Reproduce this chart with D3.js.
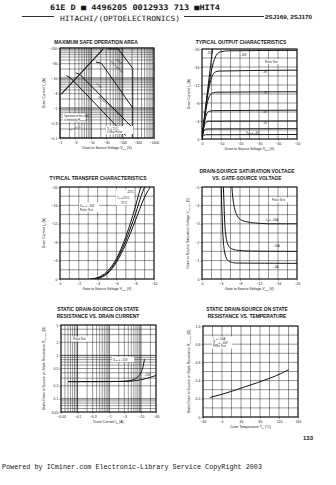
<!DOCTYPE html>
<html><head><meta charset="utf-8">
<script src="https://cdn.jsdelivr.net/npm/d3@7"></script>
<style>html,body{margin:0;padding:0;background:#fff;}svg{display:block}</style>
</head><body>
<svg id="c" width="336" height="485"></svg>
<script>
// ================= DATA =================
// 1. Maximum safe operation area (|VDS| V, |ID| A)
const soaXTicks = [1, 3, 10, 30, 100, 300, 1000];
const soaYTicks = [0.1, 0.3, 1, 3, 10, 30, 100];
const soaRdsLimit = [[1.1, 2.9], [24, 93]];
const soa10us = [[33, 93], [72, 93], [210, 21]];
const soa100us = [[14, 34], [21, 31], [210, 1.0]];
const soa1ms = [[3.2, 15], [4.5, 12.5], [190, 0.24]];
const soaDC = [[1.6, 12], [2.2, 10], [125, 0.12]];
const soaVmax = [[210, 21], [210, 0.1]];

// 2. Typical output characteristics (|VDS| V, |ID| A)
const outXTicks = [0, 10, 20, 30, 40, 50];
const outYTicks = [0, 4, 8, 12, 16, 20];
const outVgs15 = [[0,0],[1,3.8],[2,7.5],[3,11],[4,14.5],[5,18],[5.6,20]];
const outVgs10 = [[0,0],[1,3.7],[2,7.2],[3,10.3],[4,13],[5,15.3],[6,17],[7,18.2],[8,18.9],[10,19.4],[14,19.6],[50,19.7]];
const outVgs8  = [[0,0],[1,3.6],[2,6.9],[3,9.8],[4,12],[5,13.6],[6,14.5],[7,14.9],[9,15.1],[50,15.3]];
const outVgs7  = [[0,0],[1,3.4],[2,6.3],[3,8.4],[4,9.6],[5,10.1],[6,10.3],[8,10.4],[50,10.5]];
const outVgs6  = [[0,0],[1,3.0],[2,5.0],[3,5.9],[4,6.2],[6,6.3],[50,6.4]];
const outVgs5  = [[0,0],[0.8,2.2],[1.6,3.4],[2.5,3.8],[4,3.95],[50,4.0]];
const outVgs45 = [[0,0],[0.6,1.3],[1.2,2.0],[2,2.2],[4,2.25],[50,2.3]];
const outVgs4  = [[0,0],[0.5,0.6],[1,0.85],[2,0.95],[50,1.0]];

// 3. Typical transfer characteristics (|VGS| V, |ID| A)
const trXTicks = [0, 2, 4, 6, 8, 10];
const trYTicks = [0, 4, 8, 12, 16, 20];
const trTcM25 = [[3.2,0],[4,0.3],[5,1.6],[6,4.4],[7,9.2],[8,15.6],[8.4,18.6],[8.6,20]];
const trTc25  = [[3.4,0],[4,0.2],[5,1.3],[6,4.0],[7,8.4],[8,14],[8.8,19],[9,20]];
const trTc75  = [[3.6,0],[4.2,0.2],[5,1.1],[6,3.6],[7,7.6],[8,12.6],[9,17.8],[9.6,20]];

// 4. Drain-source saturation voltage vs gate-source voltage (|VGS| V, |VDS(on)| V)
const satXTicks = [0, 4, 8, 12, 16, 20];
const satYTicks = [0, 1, 2, 3, 4, 5];
const satId20 = [[6.3,5],[6.5,4.4],[6.8,3.9],[7.3,3.5],[8,3.25],[10,3.08],[14,3.0],[20,3.0]];
const satId10 = [[4.5,5],[4.65,4],[4.8,3],[5.1,2.2],[5.7,1.75],[7,1.58],[10,1.52],[20,1.5]];
const satId5  = [[4.05,5],[4.15,4],[4.3,3],[4.5,2],[4.9,1.3],[5.6,0.97],[7,0.87],[20,0.85]];

// 5. Static drain-source on state resistance vs drain current (|ID| A, RDS(on) ohm)
const rdsXTicks = [0.03, 0.1, 0.3, 1, 3, 10, 30];
const rdsYTicks = [0.05, 0.1, 0.2, 0.5, 1, 2, 5];
const rdsVgs10 = [[0.05,0.25],[0.5,0.25],[2,0.252],[4,0.26],[6,0.28],[8,0.32],[10,0.4],[11.5,0.52],[12.5,0.7],[13,0.82]];
const rdsVgs15 = [[0.05,0.25],[0.5,0.25],[3,0.252],[6,0.26],[10,0.275],[15,0.295],[20,0.315],[30,0.345]];

// 6. Static drain-source on state resistance vs case temperature (Tc degC, RDS(on) ohm)
const tcXTicks = [-40, 0, 40, 80, 120, 160];
const tcYTicks = [0, 0.2, 0.4, 0.6, 0.8, 1.0];
const tcTemp = [-25, 0, 25, 50, 75, 100, 125, 140];
const tcRds  = [0.215, 0.25, 0.29, 0.335, 0.378, 0.425, 0.48, 0.52];

// ================= DRAWING =================
const svg = d3.select('#c');
const SANS = '"Liberation Sans", Arial, Helvetica, sans-serif';
const MONO = '"Liberation Mono", "Courier New", monospace';
const INK = '#141414';

function logGrid(d0, d1) {
  const out = [];
  for (let e = Math.floor(Math.log10(d0)); e <= Math.ceil(Math.log10(d1)); e++)
    for (let m = 1; m < 10; m++) {
      const v = +(m * Math.pow(10, e)).toPrecision(6);
      if (v >= d0 * 0.999 && v <= d1 * 1.001) out.push(v);
    }
  return out;
}
function isDecade(v) { const l = Math.log10(v); return Math.abs(l - Math.round(l)) < 1e-6; }

let clipN = 0;
function panel(o) {
  const g = svg.append('g');
  const x = (o.xlog ? d3.scaleLog() : d3.scaleLinear()).domain(o.xd).range([o.x0, o.x1]);
  const y = (o.ylog ? d3.scaleLog() : d3.scaleLinear()).domain(o.yd).range([o.y1, o.y0]);
  const id = 'clip' + (++clipN);
  g.append('clipPath').attr('id', id).append('rect')
    .attr('x', o.x0).attr('y', o.y0).attr('width', o.x1 - o.x0).attr('height', o.y1 - o.y0);
  const xg = o.xlog ? logGrid(o.xd[0], o.xd[1]) : d3.range(o.xd[0], o.xd[1] + o.xstep / 2, o.xstep);
  const yg = o.ylog ? logGrid(o.yd[0], o.yd[1]) : d3.range(o.yd[0], o.yd[1] + o.ystep / 2, o.ystep);
  const xMaj = d => o.xlog ? isDecade(d) : false;
  const yMaj = d => o.ylog ? isDecade(d) : false;
  g.append('g').selectAll('line').data(xg).join('line')
    .attr('x1', d => x(d)).attr('x2', d => x(d)).attr('y1', o.y0).attr('y2', o.y1)
    .attr('stroke', INK).attr('stroke-width', d => xMaj(d) ? 0.75 : 0.45);
  g.append('g').selectAll('line').data(yg).join('line')
    .attr('y1', d => y(d)).attr('y2', d => y(d)).attr('x1', o.x0).attr('x2', o.x1)
    .attr('stroke', INK).attr('stroke-width', d => yMaj(d) ? 0.75 : 0.45);
  const axb = g.append('g').attr('transform', `translate(0,${o.y1})`)
    .call(d3.axisBottom(x).tickValues(o.xticks).tickFormat(o.xfmt).tickSize(1.5).tickPadding(1.6));
  const axl = g.append('g').attr('transform', `translate(${o.x0},0)`)
    .call(d3.axisLeft(y).tickValues(o.yticks).tickFormat(o.yfmt).tickSize(1.5).tickPadding(1.2));
  [axb, axl].forEach(a => {
    a.select('.domain').remove();
    a.selectAll('line').attr('stroke', INK).attr('stroke-width', 0.5);
    a.selectAll('text').attr('font-size', 3.4).attr('font-family', SANS).attr('fill', INK);
  });
  g.append('rect').attr('x', o.x0).attr('y', o.y0).attr('width', o.x1 - o.x0).attr('height', o.y1 - o.y0)
    .attr('fill', 'none').attr('stroke', INK).attr('stroke-width', 1);
  const plot = g.append('g').attr('clip-path', `url(#${id})`);
  // axis labels
  rich(g.append('text').attr('x', (o.x0 + o.x1) / 2).attr('y', o.y1 + 11).attr('text-anchor', 'middle'), o.xlabel, 3.5);
  rich(g.append('text').attr('transform', `translate(${o.ylx},${(o.y0 + o.y1) / 2}) rotate(-90)`).attr('text-anchor', 'middle'), o.ylabel, 3.5);
  return { g, x, y, plot };
}

function rich(t, parts, fs) {
  t.attr('font-size', fs).attr('font-family', SANS).attr('fill', INK);
  let sub = false;
  parts.forEach(p => {
    const s = t.append('tspan').text(p[0]);
    if (p[1] === 'sub') { s.attr('font-size', fs * 0.72); if (!sub) s.attr('dy', fs * 0.3); sub = true; }
    else if (sub) { s.attr('dy', -fs * 0.3); sub = false; }
  });
  return t;
}
function label(sel, x, y, parts, fs, anchor, rot) {
  const t = sel.append('text').attr('text-anchor', anchor || 'start');
  if (rot) t.attr('transform', `translate(${x},${y}) rotate(${rot})`); else t.attr('x', x).attr('y', y);
  return rich(t, parts, fs || 3.1);
}
function title(lines, cx, y0) {
  lines.forEach((l, i) => svg.append('text').attr('x', cx).attr('y', y0 + i * 7).attr('text-anchor', 'middle')
    .attr('font-family', SANS).attr('font-weight', 'bold').attr('font-size', 4.9).attr('fill', INK).text(l));
}
function curve(p, data, interp, w) {
  return p.plot.append('path').datum(data)
    .attr('d', d3.line().x(d => p.x(d[0])).y(d => p.y(d[1])).curve(interp || d3.curveLinear))
    .attr('fill', 'none').attr('stroke', INK).attr('stroke-width', w || 0.95);
}
const neg = d => d === 0 ? '0' : '\u2212' + d;

// ---------- header ----------
svg.append('text').attr('x', 50).attr('y', 10).attr('font-family', '"DejaVu Sans Mono", monospace')
  .attr('font-weight', 'bold').attr('font-size', 7.6).attr('fill', INK)
  .attr('textLength', 170).attr('lengthAdjust', 'spacingAndGlyphs')
  .text('61E D  \u25A0  4496205 0012933 713 \u25A0HIT4');
svg.append('line').attr('x1', 22).attr('x2', 54).attr('y1', 16.5).attr('y2', 16.5).attr('stroke', INK).attr('stroke-width', 0.9);
svg.append('line').attr('x1', 184).attr('x2', 264).attr('y1', 16.5).attr('y2', 16.5).attr('stroke', INK).attr('stroke-width', 0.9);
svg.append('text').attr('x', 60).attr('y', 21).attr('font-family', '"DejaVu Sans Mono", monospace')
  .attr('font-size', 7.2).attr('fill', INK).attr('textLength', 120).attr('lengthAdjust', 'spacingAndGlyphs')
  .text('HITACHI/(OPTOELECTRONICS)');
svg.append('text').attr('x', 265).attr('y', 18.5).attr('font-family', SANS).attr('font-weight', 'bold')
  .attr('font-size', 5.2).attr('fill', INK).attr('textLength', 47).attr('lengthAdjust', 'spacingAndGlyphs')
  .text('2SJ169, 2SJ170');

// ---------- 1. SOA ----------
title(['MAXIMUM SAFE OPERATION AREA'], 96, 43.5);
const p1 = panel({ x0: 60, x1: 154, y0: 48, y1: 138, xlog: true, ylog: true, xd: [1, 1000], yd: [0.1, 100],
  xticks: soaXTicks, yticks: soaYTicks, xfmt: neg, yfmt: neg, ylx: 45,
  xlabel: [['Drain to Source Voltage  V'], ['DS', 'sub'], ['  (V)']],
  ylabel: [['Drain Current  I'], ['D', 'sub'], ['  (A)']] });
curve(p1, soaRdsLimit, null, 1.1);
[soa10us, soa100us, soa1ms, soaDC].forEach(d => curve(p1, d, null, 1.0));
curve(p1, soaVmax, null, 0.9);
label(p1.g, 116, 60, [['10 \u00B5s']], 2.8, 'start', 38);
label(p1.g, 110, 62, [['PW = 100 \u00B5s']], 2.8, 'start', 42);
label(p1.g, 96, 84, [['1 ms']], 2.8, 'start', 40);
label(p1.g, 98, 97, [['DC Operation (Tc = 25\u00B0C)']], 2.6, 'start', 40);
p1.g.append('rect').attr('x', 63).attr('y', 113.5).attr('width', 22).attr('height', 8).attr('fill', '#fff');
label(p1.g, 64, 116.8, [['Operation in this area']], 2.6);
label(p1.g, 64, 120.6, [['is limited by R'], ['DS(on)', 'sub']], 2.6);
label(p1.g, 70, 131, [['Ta = 25\u00B0C']], 2.6, 'start', -20);
p1.g.append('rect').attr('x', 106).attr('y', 126).attr('width', 27).attr('height', 8).attr('fill', '#fff');
label(p1.g, 107, 129.5, [['Tc = 25\u00B0C']], 2.7);
label(p1.g, 107, 133.3, [['1 Shot Pulse']], 2.7);

// ---------- 2. Output ----------
title(['TYPICAL OUTPUT CHARACTERISTICS'], 241, 43.5);
const p2 = panel({ x0: 202, x1: 297, y0: 49, y1: 139, xd: [0, 50], yd: [0, 20], xstep: 5, ystep: 2,
  xticks: outXTicks, yticks: outYTicks, xfmt: neg, yfmt: neg, ylx: 190,
  xlabel: [['Drain to Source Voltage  V'], ['DS', 'sub'], ['  (V)']],
  ylabel: [['Drain Current  I'], ['D', 'sub'], ['  (A)']] });
[outVgs15, outVgs10, outVgs8, outVgs7, outVgs6, outVgs5, outVgs45, outVgs4]
  .forEach(d => curve(p2, d, d3.curveMonotoneX, 1.0));
p2.g.append('rect').attr('x', 264).attr('y', 59).attr('width', 18).attr('height', 5).attr('fill', '#fff');
label(p2.g, 265, 62.5, [['Pulse Test']], 2.8);
label(p2.g, 206, 54, [['\u221215V']], 2.8);
label(p2.g, 240, 56, [['\u221210V']], 2.8);
label(p2.g, 262, 73, [['\u22128V']], 2.8);
label(p2.g, 262, 94, [['\u22127V']], 2.8);
label(p2.g, 262, 113, [['\u22126V']], 2.8);
label(p2.g, 262, 124, [['\u22125V']], 2.8);
label(p2.g, 246, 133.5, [['V'], ['GS', 'sub'], [' = \u22124V']], 2.8);

// ---------- 3. Transfer ----------
title(['TYPICAL TRANSFER CHARACTERISTICS'], 98, 179.5);
const p3 = panel({ x0: 60, x1: 154, y0: 187, y1: 279, xd: [0, 10], yd: [0, 20], xstep: 1, ystep: 2,
  xticks: trXTicks, yticks: trYTicks, xfmt: neg, yfmt: neg, ylx: 45,
  xlabel: [['Gate to Source Voltage  V'], ['GS', 'sub'], ['  (V)']],
  ylabel: [['Drain Current  I'], ['D', 'sub'], ['  (A)']] });
[trTcM25, trTc25, trTc75].forEach(d => curve(p3, d, d3.curveMonotoneX, 1.0));
p3.g.append('rect').attr('x', 116).attr('y', 189.5).attr('width', 18).attr('height', 16).attr('fill', '#fff');
label(p3.g, 126, 193, [['\u221225\u00B0C']], 2.8);
label(p3.g, 117, 198.5, [['T'], ['C', 'sub'], [' = 25\u00B0C']], 2.8);
label(p3.g, 121, 204, [['75\u00B0C']], 2.8);
p3.g.append('rect').attr('x', 79).attr('y', 202.5).attr('width', 20).attr('height', 9.5).attr('fill', '#fff');
label(p3.g, 80, 206.5, [['V'], ['DS', 'sub'], [' = \u221220V']], 2.8);
label(p3.g, 80, 210.8, [['Pulse Test']], 2.8);

// ---------- 4. Saturation ----------
title(['DRAIN-SOURCE SATURATION VOLTAGE', 'VS. GATE-SOURCE VOLTAGE'], 247, 172.5);
const p4 = panel({ x0: 202, x1: 297, y0: 187, y1: 279, xd: [0, 20], yd: [0, 5], xstep: 2, ystep: 0.5,
  xticks: satXTicks, yticks: satYTicks, xfmt: neg, yfmt: neg, ylx: 189,
  xlabel: [['Gate to Source Voltage  V'], ['GS', 'sub'], ['  (V)']],
  ylabel: [['Drain to Source Saturation Voltage  V'], ['DS(on)', 'sub'], ['  (V)']] });
[satId20, satId10, satId5].forEach(d => curve(p4, d, d3.curveMonotoneY, 1.0));
p4.g.append('rect').attr('x', 271).attr('y', 197.5).attr('width', 18).attr('height', 5).attr('fill', '#fff');
label(p4.g, 272, 201, [['Pulse Test']], 2.8);
label(p4.g, 266, 220.5, [['I'], ['D', 'sub'], [' = \u221220A']], 2.8);
label(p4.g, 273, 247, [['\u221210A']], 2.8);
label(p4.g, 273, 267.5, [['\u22125A']], 2.8);

// ---------- 5. Rds vs ID ----------
title(['STATIC DRAIN-SOURCE ON STATE', 'RESISTANCE VS. DRAIN CURRENT'], 98, 311);
const p5 = panel({ x0: 61, x1: 156, y0: 325, y1: 412, xlog: true, ylog: true, xd: [0.03, 30], yd: [0.05, 5],
  xticks: rdsXTicks, yticks: rdsYTicks, xfmt: neg, yfmt: d => String(d), ylx: 45,
  xlabel: [['Drain Current  I'], ['D', 'sub'], ['  (A)']],
  ylabel: [['Static Drain to Source on State Resistance  R'], ['DS(on)', 'sub'], ['  (\u03A9)']] });
[rdsVgs10, rdsVgs15].forEach(d => curve(p5, d, d3.curveMonotoneX, 1.0));
p5.g.append('rect').attr('x', 72).attr('y', 336.5).attr('width', 17).attr('height', 5).attr('fill', '#fff');
label(p5.g, 73, 340, [['Pulse Test']], 2.8);
p5.g.append('rect').attr('x', 112).attr('y', 357).attr('width', 22).attr('height', 5).attr('fill', '#fff');
label(p5.g, 113, 360.5, [['V'], ['GS', 'sub'], [' = \u221210V']], 2.8);
label(p5.g, 144, 375.5, [['\u221215V']], 2.8);

// ---------- 6. Rds vs Tc ----------
title(['STATIC DRAIN-SOURCE ON STATE', 'RESISTANCE VS. TEMPERATURE'], 247, 311);
const p6 = panel({ x0: 203, x1: 298, y0: 326, y1: 417, xd: [-40, 160], yd: [0, 1.0], xstep: 20, ystep: 0.1,
  xticks: tcXTicks, yticks: tcYTicks, xfmt: d => d < 0 ? '\u2212' + (-d) : String(d), yfmt: d => d === 0 ? '0' : d3.format('.1f')(d), ylx: 190,
  xlabel: [['Case Temperature  T'], ['C', 'sub'], ['  (\u00B0C)']],
  ylabel: [['Static Drain to Source on State Resistance  R'], ['DS(on)', 'sub'], ['  (\u03A9)']] });
curve(p6, tcTemp.map((t, i) => [t, tcRds[i]]), d3.curveMonotoneX, 1.0);
p6.g.append('rect').attr('x', 212).attr('y', 336.5).attr('width', 20).attr('height', 12).attr('fill', '#fff');
label(p6.g, 213, 340, [['I'], ['D', 'sub'], [' = \u221210A']], 2.8);
label(p6.g, 213, 343.7, [['V'], ['GS', 'sub'], [' = \u221210V']], 2.8);
label(p6.g, 213, 347.4, [['Pulse Test']], 2.8);

// ---------- footer ----------
svg.append('text').attr('x', 313).attr('y', 440).attr('text-anchor', 'end').attr('font-family', SANS)
  .attr('font-weight', 'bold').attr('font-size', 6).attr('fill', INK).text('133');
svg.append('text').attr('x', 2).attr('y', 469).attr('font-family', MONO).attr('font-size', 6.6).attr('fill', INK)
  .attr('textLength', 260).attr('lengthAdjust', 'spacingAndGlyphs')
  .text('Powered by ICminer.com Electronic-Library Service CopyRight 2003');
</script>
</body></html>
